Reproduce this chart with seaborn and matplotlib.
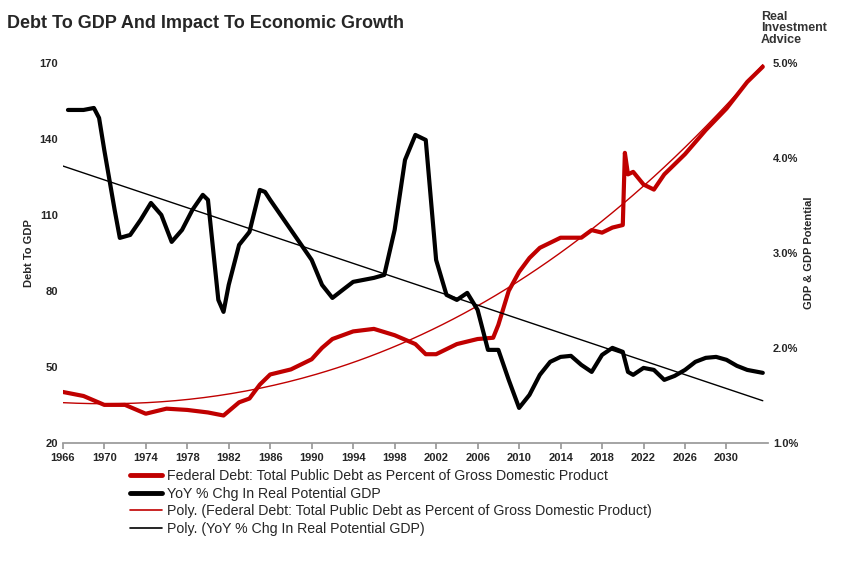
import numpy as np
import pandas as pd
import matplotlib
matplotlib.use("Agg")
import matplotlib.pyplot as plt
import seaborn as sns

debt_years = [1966,1968,1970,1972,1974,1976,1978,1980,1981.5,1983,1984,1985,1986,1988,1990,1991,1992,1994,1996,1998,2000,2001,2002,2004,2006,2007.5,2008,2009,2010,2011,2012,2013,2014,2016,2017,2018,2019,2020,2020.2,2020.5,2021,2022,2023,2024,2026,2028,2030,2032,2033.5]
debt_vals = [40.1,38.5,35,35,31.5,33.5,33,32,30.8,36,37.5,43,47,49,53,57.5,61,64,65,62.5,59,55,55,59,61,61.5,66.6,80,87.5,93,97,99,101,101,104,103,105,106,134.5,126,127,122,120,126,134,143.5,152,162.5,168.5]

gdp_years = [1966.5,1968,1969,1969.5,1970,1971,1971.5,1972.5,1973.5,1974.5,1975.5,1976.5,1977.5,1978.5,1979.5,1980,1980.5,1981,1981.5,1982,1983,1984,1985,1985.5,1986,1987,1988,1989,1990,1991,1992,1993,1994,1995,1996,1997,1998,1999,2000,2001,2001.5,2002,2003,2004,2005,2006,2007,2008,2009,2010,2011,2012,2013,2014,2015,2016,2017,2018,2019,2020,2020.5,2021,2022,2023,2024,2025,2026,2027,2028,2029,2030,2031,2032,2033.5]
gdp_px = [110,110,108,118,150,210,238,235,220,203,215,242,230,210,195,200,250,300,312,285,245,232,190,192,200,215,230,245,260,285,298,290,282,280,278,275,230,160,135,140,200,260,295,300,293,310,350,350,380,408,395,375,362,357,356,365,372,355,348,352,372,375,368,370,380,376,370,362,358,357,360,366,370,373]
gdp_vals = [round(5 - (p - 63) / 95, 3) for p in gdp_px]

sns.set_theme(style="white")
plt.rcParams['font.family'] = ['Arial', 'Liberation Sans', 'DejaVu Sans']

fig = plt.figure(figsize=(8.6, 5.62), dpi=100)
ax = fig.add_axes([0.073, 0.212, 0.82, 0.676])
ax2 = ax.twinx()

red = "#c00000"
d = pd.DataFrame({"x": debt_years, "y": debt_vals})
g = pd.DataFrame({"x": gdp_years, "y": gdp_vals})
sns.lineplot(data=d, x="x", y="y", ax=ax, color=red, lw=3, legend=False)
sns.lineplot(data=g, x="x", y="y", ax=ax2, color="black", lw=3, legend=False)

xs = np.linspace(1966, 2033.5, 200)
pr = np.polyfit(np.array(debt_years) - 2000, debt_vals, 3)
pb = np.polyfit(gdp_years, gdp_vals, 1)
ax.plot(xs, np.polyval(pr, xs - 2000), color=red, lw=1.0)
ax2.plot(xs, np.polyval(pb, xs), color="black", lw=1.0)

ax.set_xlim(1966, 2034)
ax.set_ylim(20, 170)
ax2.set_ylim(1, 5)
ax.set_xticks(range(1966, 2031, 4))
ax.set_yticks(range(20, 171, 30))
ax2.set_yticks([1, 2, 3, 4, 5])
ax2.set_yticklabels(["1.0%", "2.0%", "3.0%", "4.0%", "5.0%"])
for a in (ax, ax2):
    a.tick_params(labelsize=8, length=0)
    for t in a.get_xticklabels() + a.get_yticklabels():
        t.set_fontweight("bold")
    for s in a.spines.values():
        s.set_visible(False)
ax.spines["bottom"].set_visible(True)
ax.spines["bottom"].set_color("#999999")
ax.tick_params(axis="x", length=4, direction="out", bottom=True, color="#999999")
ax.set_xlabel("")
ax.set_ylabel("Debt To GDP", fontsize=8, fontweight="bold")
ax2.set_ylabel("GDP & GDP Potential", fontsize=8, fontweight="bold")
ax2.set_xlabel("")

fig.text(0.008, 0.95, "Debt To GDP And Impact To Economic Growth", fontsize=13, fontweight="bold")
fig.text(0.885, 0.95, "Real\nInvestment\nAdvice", fontsize=9, fontweight="bold", color="#333333", va="center", linespacing=0.95)

from matplotlib.lines import Line2D
handles = [Line2D([], [], color=red, lw=3.5), Line2D([], [], color="black", lw=3.5),
           Line2D([], [], color=red, lw=1.2), Line2D([], [], color="black", lw=1.2)]
labels = ["Federal Debt: Total Public Debt as Percent of Gross Domestic Product",
          "YoY % Chg In Real Potential GDP",
          "Poly. (Federal Debt: Total Public Debt as Percent of Gross Domestic Product)",
          "Poly. (YoY % Chg In Real Potential GDP)"]
fig.legend(handles, labels, loc="upper left", bbox_to_anchor=(0.145, 0.175), frameon=False,
           fontsize=10.2, handlelength=2.2, labelspacing=0.25, borderaxespad=0, handletextpad=0.4)

fig.savefig("out.png", dpi=100)
